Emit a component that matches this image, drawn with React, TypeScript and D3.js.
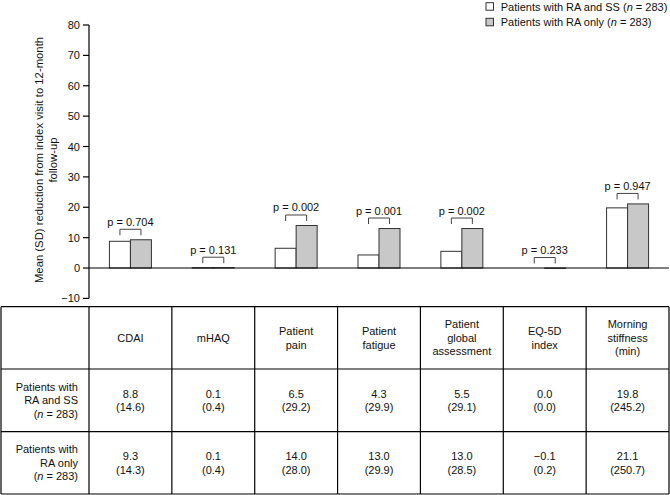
import * as d3 from "d3";

const categories = ["CDAI", "mHAQ", "Patient pain", "Patient fatigue", "Patient global assessment", "EQ-5D index", "Morning stiffness (min)"];
const headerLines = [["CDAI"], ["mHAQ"], ["Patient", "pain"], ["Patient", "fatigue"], ["Patient", "global", "assessment"], ["EQ-5D", "index"], ["Morning", "stiffness", "(min)"]];
const raSsMean = [8.8, 0.1, 6.5, 4.3, 5.5, 0.0, 19.8];
const raSsSd = [14.6, 0.4, 29.2, 29.9, 29.1, 0.0, 245.2];
const raOnlyMean = [9.3, 0.1, 14.0, 13.0, 13.0, -0.1, 21.1];
const raOnlySd = [14.3, 0.4, 28.0, 29.9, 28.5, 0.2, 250.7];
const pValues = ["0.704", "0.131", "0.002", "0.001", "0.002", "0.233", "0.947"];
const yTicks = [-10, 0, 10, 20, 30, 40, 50, 60, 70, 80];

const W = 670;
const H = 495;
const font = "'Liberation Sans', Arial, Helvetica, sans-serif";

export default function App() {
  const x = d3.scaleBand<string>().domain(categories).range([89, 669]);
  const y = d3.scaleLinear().domain([-10, 80]).range([298.4, 25]);
  const barW = 21;
  const fmt = d3.format(".1f");
  const tickFmt = d3.format("d");

  const rowEdges = [306.7, 369, 431.7, 494];
  const lh = 13.5;

  const bar = (i: number, v: number, left: number, fill: string) => {
    const top = y(Math.max(v, 0));
    const h = Math.abs(y(v) - y(0));
    return <rect key={`${i}-${fill}`} x={left} y={top} width={barW} height={h} fill={fill} stroke="#333" strokeWidth={1} />;
  };

  const cellText = (cx: number, cy: number, lines: React.ReactNode[], anchor: string, key: string) => {
    const first = cy - ((lines.length - 1) * lh) / 2 + 4;
    return (
      <text key={key} textAnchor={anchor} fontSize={11} fontFamily={font} fill="#111">
        {lines.map((l, j) => (
          <tspan key={j} x={cx} y={first + j * lh}>{l}</tspan>
        ))}
      </text>
    );
  };

  const nLine = (
    <>
      (<tspan fontStyle="italic">n</tspan> = 283)
    </>
  );

  return (
    <svg width={W} height={H} style={{ position: "absolute", left: 0, top: 0, background: "#fff" }}>
      {/* legend */}
      <g fontFamily={font} fontSize={11} fill="#111">
        <rect x={486} y={2.7} width={7.5} height={7.5} fill="#fff" stroke="#333" />
        <text x={500.7} y={11}>Patients with RA and SS (<tspan fontStyle="italic">n</tspan> = 283)</text>
        <rect x={486} y={18.3} width={7.5} height={7.5} fill="#c8c8c8" stroke="#333" />
        <text x={500.7} y={26.3}>Patients with RA only (<tspan fontStyle="italic">n</tspan> = 283)</text>
      </g>

      {/* y axis */}
      <g fontFamily={font} fontSize={11} fill="#111">
        <line x1={89} x2={89} y1={y(-10)} y2={y(80)} stroke="#000" strokeWidth={1.2} />
        {yTicks.map((t) => (
          <g key={t}>
            <line x1={83} x2={89} y1={y(t)} y2={y(t)} stroke="#000" strokeWidth={1.2} />
            <text x={80} y={y(t) + 4} textAnchor="end">{tickFmt(t)}</text>
          </g>
        ))}
        <text transform="translate(43,160) rotate(-90)" textAnchor="middle" fontSize={11.3}>
          <tspan x={0} y={0}>Mean (SD) reduction from index visit to 12-month</tspan>
          <tspan x={0} y={14}>follow-up</tspan>
        </text>
      </g>

      {/* bars */}
      <g>
        {categories.map((c, i) => {
          const mid = (x(c) as number) + x.bandwidth() / 2;
          return (
            <g key={c}>
              {bar(i, raSsMean[i], mid - barW, "#fff")}
              {bar(i, raOnlyMean[i], mid, "#c8c8c8")}
            </g>
          );
        })}
      </g>
      <line x1={89} x2={669} y1={y(0)} y2={y(0)} stroke="#000" strokeWidth={1.2} />

      {/* p-value brackets */}
      <g fontFamily={font} fontSize={11} fill="#111">
        {categories.map((c, i) => {
          const mid = (x(c) as number) + x.bandwidth() / 2;
          const x1 = mid - barW / 2;
          const x2 = mid + barW / 2;
          const legBottom = Math.min(y(Math.max(raSsMean[i], 0)), y(Math.max(raOnlyMean[i], 0))) - 4.5;
          const top = legBottom - 6;
          return (
            <g key={c}>
              <path d={`M${x1},${legBottom}V${top}H${x2}V${legBottom}`} fill="none" stroke="#444" strokeWidth={1} />
              <text x={mid} y={top - 3.5} textAnchor="middle">p = {pValues[i]}</text>
            </g>
          );
        })}
      </g>

      {/* table */}
      <g stroke="#000" strokeWidth={1.2}>
        {rowEdges.map((r) => (
          <line key={r} x1={1} x2={669} y1={r} y2={r} />
        ))}
        <line x1={1} x2={1} y1={rowEdges[0]} y2={rowEdges[3]} />
        {categories.map((c) => (
          <line key={c} x1={x(c) as number} x2={x(c) as number} y1={rowEdges[0]} y2={rowEdges[3]} />
        ))}
        <line x1={669} x2={669} y1={rowEdges[0]} y2={rowEdges[3]} />
      </g>
      <g>
        {categories.map((c, i) => {
          const mid = (x(c) as number) + x.bandwidth() / 2;
          return (
            <g key={c}>
              {cellText(mid, (rowEdges[0] + rowEdges[1]) / 2, headerLines[i], "middle", "h")}
              {cellText(mid, (rowEdges[1] + rowEdges[2]) / 2, [fmt(raSsMean[i]), `(${fmt(raSsSd[i])})`], "middle", "a")}
              {cellText(mid, (rowEdges[2] + rowEdges[3]) / 2, [fmt(raOnlyMean[i]), `(${fmt(raOnlySd[i])})`], "middle", "b")}
            </g>
          );
        })}
        {cellText(78, (rowEdges[1] + rowEdges[2]) / 2, ["Patients with", "RA and SS", nLine], "end", "r1")}
        {cellText(78, (rowEdges[2] + rowEdges[3]) / 2, ["Patients with", "RA only", nLine], "end", "r2")}
      </g>
    </svg>
  );
}
